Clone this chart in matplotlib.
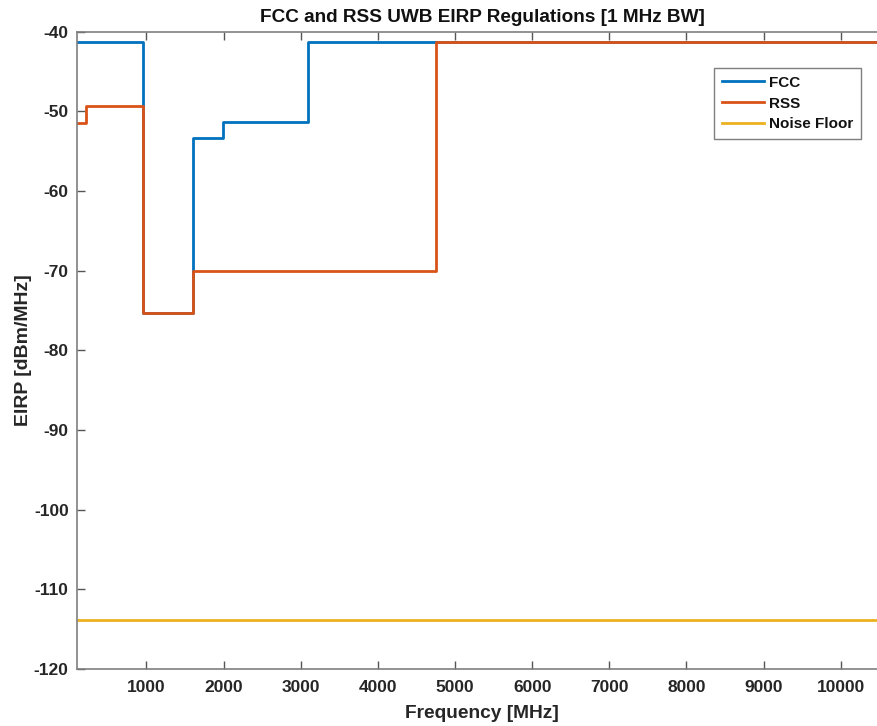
import numpy as np
import matplotlib
matplotlib.use("Agg")
import matplotlib.pyplot as plt

plt.rcParams['font.family'] = ['Liberation Sans', 'DejaVu Sans']
plt.rcParams['font.weight'] = 'bold'
plt.rcParams['axes.unicode_minus'] = False

# step data (frequency where each level starts, MHz)
fcc_freq = [100, 960, 1610, 1990, 3100, 10600]
fcc_eirp = [-41.3, -75.3, -53.3, -51.3, -41.3, -41.3]
rss_freq = [100, 216, 960, 1610, 4750, 10600]
rss_eirp = [-51.5, -49.3, -75.3, -70.0, -41.3, -41.3]
noise_freq = [100, 10600]
noise_eirp = [-113.8, -113.8]

yticks = list(range(-120, -39, 10))
xticks = list(range(1000, 10001, 1000))

fig = plt.figure(figsize=(8.78, 7.26), dpi=100)
ax = fig.add_axes([0.0877, 0.0785, 0.9226, 0.8778])

lw = 2.0
ax.plot(fcc_freq, fcc_eirp, drawstyle='steps-post', color='#0072BD', lw=lw, label='FCC')
ax.plot(rss_freq, rss_eirp, drawstyle='steps-post', color='#D95319', lw=lw, label='RSS')
ax.plot(noise_freq, noise_eirp, color='#EDB120', lw=lw, label='Noise Floor')

ax.set_xlim(100, 10600)
ax.set_ylim(-120, -40)
ax.set_xticks(xticks)
ax.set_yticks(yticks)
ax.tick_params(direction='in', top=True, right=True, labelsize=12.5, colors='#262626',
               length=6, width=1, pad=6)
ax.tick_params(axis='x', pad=8)
for lab in ax.get_xticklabels() + ax.get_yticklabels():
    lab.set_fontweight('bold')
for s in ax.spines.values():
    s.set_color('#7f7f7f')
    s.set_linewidth(1.2)
ax.tick_params(color='#555555')

ax.set_title('FCC and RSS UWB EIRP Regulations [1 MHz BW]', fontsize=13.7, fontweight='bold',
             color='#111111', pad=7)
ax.set_xlabel('Frequency [MHz]', fontsize=13.8, fontweight='bold', color='#262626', labelpad=7)
ax.set_ylabel('EIRP [dBm/MHz]', fontsize=14, fontweight='bold', color='#262626', labelpad=1)

leg = ax.legend(loc='upper left', bbox_to_anchor=(0.8132, 0.9063), bbox_transform=fig.transFigure,
                fancybox=False, framealpha=1, edgecolor='#7f7f7f', fontsize=11,
                handlelength=2.8, handletextpad=0.3, borderpad=0.5, labelspacing=0.45,
                borderaxespad=0)
for t in leg.get_texts():
    t.set_fontweight('bold')
    t.set_color('#111111')

fig.savefig('out.png', dpi=100)
